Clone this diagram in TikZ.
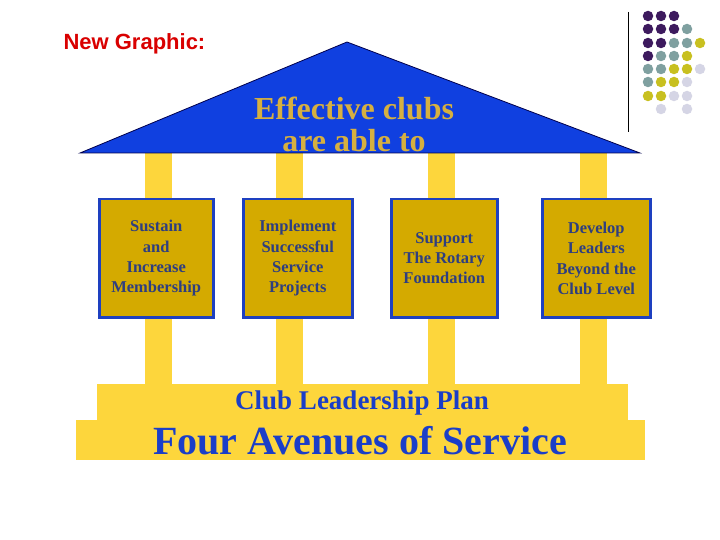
\documentclass[tikz,border=0pt]{standalone}
\usepackage{fontspec}
\setmainfont{Liberation Serif}
\newfontfamily\arialf{Liberation Sans}
\definecolor{pillar}{HTML}{FDD63C}
\definecolor{boxfill}{HTML}{D4AA00}
\definecolor{boxline}{HTML}{1E40C0}
\definecolor{roof}{HTML}{1040E0}
\definecolor{gold}{HTML}{D6B040}
\definecolor{boxtext}{HTML}{2E3E80}
\definecolor{deepblue}{HTML}{1A3EC8}
\definecolor{dP}{HTML}{3D1A5E}
\definecolor{dT}{HTML}{7FA0A0}
\definecolor{dY}{HTML}{C8C020}
\definecolor{dL}{HTML}{D5D5E5}
\begin{document}
\begin{tikzpicture}[x=1pt,y=-1pt,
  avenue/.style={draw=boxline,line width=2.5pt,fill=boxfill,inner sep=0pt,text=boxtext,
     align=center,font=\fontsize{16.5}{20.3}\selectfont\bfseries,anchor=north west},
  col/.style={fill=pillar},
  dot/.style={circle,inner sep=0pt,minimum size=10.5pt}]
\useasboundingbox (0,0) rectangle (720,540);
\fill[white] (0,0) rectangle (720,540);
\node[anchor=west,text=red!85!black,font=\arialf\bfseries\fontsize{22}{26}\selectfont] (ng) at (60,44) {New Graphic:};
% pillars
\foreach \a/\b in {145/172,276/303,428/455,580/607} \fill[col] (\a,153) rectangle (\b,390);
% base
\fill[col] (97,384) rectangle (628,421);
\fill[col] (76,420) rectangle (645,460);
% roof
\filldraw[fill=roof,draw=black!70!blue,line width=0.8pt] (80,153) -- (347,42) -- (640,153) -- cycle;
\node[text=gold,font=\fontsize{32}{32}\selectfont\bfseries,align=center] (title) at (354,124) {Effective clubs\\are able to};
% boxes
\node[avenue,minimum width=114pt,minimum height=118pt] (b1) at (98,198) {Sustain\\and\\Increase\\Membership};
\node[avenue,minimum width=109pt,minimum height=118pt] (b2) at (242,198) {Implement\\Successful\\Service\\Projects};
\node[avenue,minimum width=106pt,minimum height=118pt] (b3) at (390,198) {Support\\The Rotary\\Foundation};
\node[avenue,minimum width=108pt,minimum height=118pt] (b4) at (541,198) {Develop\\Leaders\\Beyond the\\Club Level};
\node[text=deepblue,font=\fontsize{27}{30}\selectfont\bfseries] (clp) at (362,403) {Club Leadership Plan};
\node[text=deepblue,font=\fontsize{40}{42}\selectfont\bfseries] (fas) at (360,441) {Four Avenues of Service};
% dots
\draw[black,line width=1pt] (628,12) -- (628,132);
\foreach \r/\row in {16/{P,P,P},29/{P,P,P,T},43/{P,P,T,T,Y},56/{P,T,T,Y},69/{T,T,Y,Y,L},82/{T,Y,Y,L},96/{Y,Y,L,L}}{
  \foreach \c [count=\i] in \row { \node[dot,fill=d\c] at (635+13*\i,\r) {}; }
}
\node[dot,fill=dL] at (661,109) {};
\node[dot,fill=dL] at (687,109) {};
\end{tikzpicture}
\end{document}
